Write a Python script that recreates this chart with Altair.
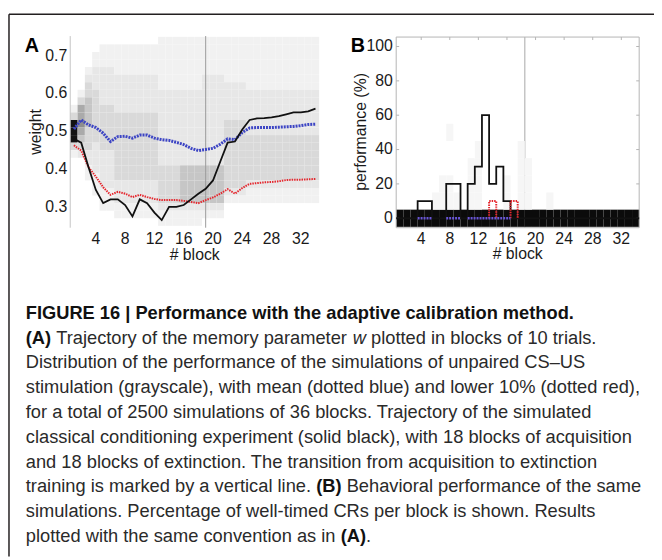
import altair as alt
import pandas as pd

# ---------------- data ----------------
blocks = list(range(1, 35))
x_ticks = [4, 8, 12, 16, 20, 24, 28, 32]

# Panel A: weight trajectories
black_A = [0.48, 0.47, 0.405, 0.345, 0.31, 0.32, 0.32, 0.305, 0.275, 0.32, 0.31, 0.285,
           0.265, 0.30, 0.30, 0.305, 0.32, 0.335, 0.348, 0.37, 0.42, 0.47, 0.473, 0.505,
           0.53, 0.534, 0.535, 0.537, 0.54, 0.545, 0.55, 0.55, 0.553, 0.56]
blue_A = [0.506, 0.53, 0.517, 0.51, 0.495, 0.473, 0.486, 0.487, 0.482, 0.49, 0.49, 0.482,
          0.478, 0.476, 0.471, 0.465, 0.455, 0.449, 0.452, 0.455, 0.466, 0.48, 0.478, 0.497,
          0.509, 0.51, 0.51, 0.51, 0.511, 0.512, 0.513, 0.515, 0.518, 0.519]
red_A = [0.463, 0.449, 0.405, 0.38, 0.352, 0.332, 0.34, 0.335, 0.326, 0.332, 0.326, 0.321,
         0.318, 0.318, 0.318, 0.316, 0.313, 0.31, 0.318, 0.325, 0.335, 0.347, 0.335, 0.35,
         0.361, 0.363, 0.365, 0.366, 0.368, 0.371, 0.372, 0.372, 0.373, 0.374]
y_ticks_A = [0.3, 0.4, 0.5, 0.6, 0.7]
transition_A = 19.0

# Panel A grayscale distribution: weight bin centres (top to bottom), one string per block,
# each digit = darkness of the cell (0 = empty)
weight_bins = [0.74, 0.72, 0.70, 0.68, 0.66, 0.64, 0.62, 0.60, 0.58, 0.56, 0.54, 0.52, 0.50,
               0.48, 0.46, 0.44, 0.42, 0.40, 0.38, 0.36, 0.34, 0.32, 0.30, 0.28, 0.26]
heat_A_cols = [
    "0000000001399931000000000",  # 1
    "0000000135565432000000000",  # 2
    "0000123344443332211000000",  # 3
    "0011222333333322221110000",  # 4
    "0111222223333332222211100",  # 5
    "0111222223333332222211100",  # 6
    "0111122222333333333222110",  # 7
    "0111122222333333333222110",  # 8
    "0111122222333333333222110",  # 9
    "0111122222333333333222110",  # 10
    "0111122222333333333222110",  # 11
    "0111122222333333333222110",  # 12
    "1111111222222222233333211",  # 13
    "1111111222222222233333211",  # 14
    "1111111222222222233333211",  # 15
    "1111111222222222244444211",  # 16
    "1111111222222222244444211",  # 17
    "1111111222222222244444211",  # 18
    "1111122222222222244444210",  # 19
    "1111122222222222244444210",  # 20
    "1111122222222222244444210",  # 21
    "1111112222233333333321000",  # 22
    "1111112222233333333321000",  # 23
    "1111112222233333333321000",  # 24
    "1111111222222333333211000",  # 25
    "1111111222222333333211000",  # 26
    "1111111222222333333211000",  # 27
    "1111111222222333333211000",  # 28
    "1111111222222333333211000",  # 29
    "1111111222222333333211000",  # 30
    "1111111222222333333211000",  # 31
    "1111111222222333333211000",  # 32
    "1111111222222333333211000",  # 33
    "1111111222222333333211000",  # 34
]
gray_levels = [1, 2, 3, 4, 5, 6, 7, 8, 9]
gray_colors_A = ["#f1f1f1", "#e7e7e7", "#d9d9d9", "#c6c6c6", "#aaaaaa", "#8e8e8e",
                 "#6e6e6e", "#444444", "#121212"]

# Panel B: performance (%) per block
black_B = [0, 0, 0, 10, 10, 0, 0, 20, 20, 0, 20, 30, 60, 20, 30, 10, 0, 0, 0, 0, 0, 0,
           0, 0, 0, 0, 0, 0, 0, 0, 0, 0, 0, 0]
red_B = [0, 0, 0, 0, 0, 0, 0, 0, 0, 0, 0, 0, 0, 10, 0, 0, 10, 0, 0, 0, 0, 0,
         0, 0, 0, 0, 0, 0, 0, 0, 0, 0, 0, 0]
blue_B = [None, None, None, 0, 0, None, None, 0, 0, None, 0, 0, 0, 0, 0, 0, None, None,
          None, None, None, None, None, None, None, None, None, None, None, None, None,
          None, None, None]
y_ticks_B = [0, 20, 40, 60, 80, 100]
transition_B = 18.5
perf_bins = [0, 10, 20, 30, 40, 50, 60, 70, 80, 90, 100]
heat_B_rows = {
    0:   "9999999999999999999999999999999999",
    10:  "0000011110110001011001000000000000",
    20:  "0000001100110001011000000000000000",
    30:  "0000000000110000011000000000000000",
    40:  "0000000000010000010000000000000000",
    50:  "0000000100000000000000000000000000",
}
gray_colors_B = ["#f6f6f6", "#e3e3e3", "#d3d3d3", "#c2c2c2", "#a8a8a8", "#8e8e8e",
                 "#6e6e6e", "#444444", "#0b0b0b"]

caption_lines = [
    "Distribution of the performance of the simulations of unpaired CS\u2013US",
    "stimulation (grayscale), with mean (dotted blue) and lower 10% (dotted red),",
    "for a total of 2500 simulations of 36 blocks. Trajectory of the simulated",
    "classical conditioning experiment (solid black), with 18 blocks of acquisition",
    "and 18 blocks of extinction. The transition from acquisition to extinction",
]

# ---------------- helpers (layout) ----------------
M = 8  # page margin


def sc(domain, rng):
    return alt.Scale(domain=domain, range=rng, nice=False, zero=False)


XA = sc([0.5, 34.5], [71 - M, 323 - M])
YA = sc([0.245, 0.752], [227 - M, 33 - M])
XB = sc([0.5, 34.5], [401 - M, 647 - M])
YB = sc([-5.5, 105.5], [227 - M, 34 - M])

one = pd.DataFrame({"a": [0]})
FONT = "Liberation Sans, Arial, Helvetica, sans-serif"

W = {' ': 278, '.': 278, ',': 278, '(': 333, ')': 333, '%': 889, '\u2013': 556, '-': 333}
W.update(dict(zip("abcdefghijklmnopqrstuvwxyz",
                  [556, 556, 500, 556, 556, 278, 556, 556, 222, 222, 500, 222, 833, 556, 556,
                   556, 556, 333, 500, 278, 556, 500, 722, 500, 500, 500])))
W.update(dict(zip("ABCDEFGHIJKLMNOPQRSTUVWXYZ",
                  [667, 667, 722, 722, 667, 611, 778, 722, 278, 500, 667, 556, 833, 722, 778,
                   667, 778, 722, 667, 611, 722, 667, 944, 667, 667, 611])))
for d in "0123456789":
    W[d] = 556


def tw(s, size, bold=False):
    if bold:
        wb = {'(': 333, ')': 333, 'A': 722, 'B': 722, ' ': 278}
        return sum(wb.get(c, 611) for c in s) / 1000 * size
    return sum(W.get(c, 556) for c in s) / 1000 * size


def txt(s, x, y, size=16, weight="normal", align="left", baseline="alphabetic",
        angle=0, color="#1a1a1a", style="normal", font=FONT):
    return alt.Chart(pd.DataFrame({"t": [s]})).mark_text(
        fontSize=size, fontWeight=weight, align=align, baseline=baseline, angle=angle,
        color=color, font=font, fontStyle=style
    ).encode(x=alt.value(x - M), y=alt.value(y - M), text="t:N")


def vrule(x, y1, y2, color, w=1):
    return alt.Chart(one).mark_rule(color=color, strokeWidth=w).encode(
        x=alt.value(x - M), y=alt.value(y1 - M), y2=alt.value(y2 - M))


def hrule(x1, x2, y, color, w=1):
    return alt.Chart(one).mark_rule(color=color, strokeWidth=w).encode(
        x=alt.value(x1 - M), x2=alt.value(x2 - M), y=alt.value(y - M))


def full_stairs(vals):
    rows, k = [], 0
    for b, v in zip(blocks, vals):
        rows.append({"x": b - 0.5, "y": v, "o": k, "s": 0}); k += 1
        rows.append({"x": b + 0.5, "y": v, "o": k, "s": 0}); k += 1
    return pd.DataFrame(rows)


def run_stairs(vals, closed):
    rows, k, s = [], 0, 0
    i, n = 0, len(vals)
    while i < n:
        ok = vals[i] is not None and (vals[i] > 0 if closed else True)
        if not ok:
            i += 1
            continue
        j = i
        while j < n and vals[j] is not None and (vals[j] > 0 if closed else True):
            j += 1
        if closed:
            rows.append({"x": blocks[i] - 0.5, "y": 0, "o": k, "s": s}); k += 1
        for t in range(i, j):
            rows.append({"x": blocks[t] - 0.5, "y": vals[t], "o": k, "s": s}); k += 1
            rows.append({"x": blocks[t] + 0.5, "y": vals[t], "o": k, "s": s}); k += 1
        if closed:
            rows.append({"x": blocks[j - 1] + 0.5, "y": 0, "o": k, "s": s}); k += 1
        s += 1
        i = j
    return pd.DataFrame(rows)


layers = []

# ---------------- frame ----------------
layers.append(hrule(9, 662, 11, "#231f20", 1.5))
layers.append(vrule(9, 11, 560, "#231f20", 1.5))

# ---------------- panel A ----------------
rowsA = []
for b, col in zip(blocks, heat_A_cols):
    for w, ch in zip(weight_bins, col):
        if ch != "0":
            rowsA.append({"x": b - 0.5, "x2": b + 0.5, "y": w - 0.01, "y2": w + 0.01,
                          "lev": int(ch)})
dfA = pd.DataFrame(rowsA)
layers.append(alt.Chart(dfA).mark_rect(strokeWidth=0).encode(
    x=alt.X("x:Q", scale=XA, axis=None), x2="x2:Q",
    y=alt.Y("y:Q", scale=YA, axis=None), y2="y2:Q",
    color=alt.Color("lev:O", scale=alt.Scale(domain=gray_levels, range=gray_colors_A),
                    legend=None)))

layers.append(vrule(71, 33, 227, "#c4c4c4", 1))
layers.append(alt.Chart(pd.DataFrame({"b": [transition_A]})).mark_rule(
    color="#9a9a9a", strokeWidth=1).encode(
    x=alt.X("b:Q", scale=XA, axis=None), y=alt.value(33 - M), y2=alt.value(227 - M)))

dfL = pd.DataFrame({"b": blocks, "black": black_A, "blue": blue_A, "red": red_A})
layers.append(alt.Chart(dfL).mark_line(color="#3c44c4", strokeWidth=3, strokeDash=[2, 1]).encode(
    x=alt.X("b:Q", scale=XA, axis=None), y=alt.Y("blue:Q", scale=YA, axis=None)))
layers.append(alt.Chart(dfL).mark_line(color="#e5262d", strokeWidth=2, strokeDash=[1.5, 1]).encode(
    x=alt.X("b:Q", scale=XA, axis=None), y=alt.Y("red:Q", scale=YA, axis=None)))
layers.append(alt.Chart(dfL).mark_line(color="#111111", strokeWidth=1.8).encode(
    x=alt.X("b:Q", scale=XA, axis=None), y=alt.Y("black:Q", scale=YA, axis=None)))

dfXT = pd.DataFrame({"b": x_ticks, "lab": [str(t) for t in x_ticks]})
layers.append(alt.Chart(dfXT).mark_text(fontSize=16, font=FONT, color="#1a1a1a",
                                         baseline="alphabetic").encode(
    x=alt.X("b:Q", scale=XA, axis=None), y=alt.value(243.5 - M), text="lab:N"))
dfYA = pd.DataFrame({"v": y_ticks_A, "lab": ["%.1f" % v for v in y_ticks_A]})
layers.append(alt.Chart(dfYA).mark_text(fontSize=16, font=FONT, color="#1a1a1a",
                                         align="right", baseline="middle").encode(
    x=alt.value(68 - M), y=alt.Y("v:Q", scale=YA, axis=None), text="lab:N"))
layers.append(txt("weight", 36, 130, 16, angle=270, align="center", baseline="middle"))
layers.append(txt("# block", 197, 260, 16, align="center"))
layers.append(txt("A", 25, 49, 20, weight="bold", color="#000000"))

# ---------------- panel B ----------------
rowsB = []
for p, row in heat_B_rows.items():
    for b, ch in zip(blocks, row):
        if ch != "0":
            rowsB.append({"x": b - 0.5, "x2": b + 0.5, "y": p - 5, "y2": p + 5,
                          "lev": int(ch)})
dfB = pd.DataFrame(rowsB)
layers.append(alt.Chart(pd.DataFrame({"b": [transition_B]})).mark_rule(
    color="#a8a8a8", strokeWidth=1).encode(
    x=alt.X("b:Q", scale=XB, axis=None), y=alt.value(34 - M), y2=alt.value(227 - M)))
layers.append(alt.Chart(dfB).mark_rect(strokeWidth=0).encode(
    x=alt.X("x:Q", scale=XB, axis=None), x2="x2:Q",
    y=alt.Y("y:Q", scale=YB, axis=None), y2="y2:Q",
    color=alt.Color("lev:O", scale=alt.Scale(domain=gray_levels, range=gray_colors_B),
                    legend=None)))
layers.append(alt.Chart(one).mark_rect(fillOpacity=0, stroke="#b4b4b4", strokeWidth=1).encode(
    x=alt.value(401 - M), x2=alt.value(647 - M), y=alt.value(34 - M), y2=alt.value(227 - M)))
layers.append(alt.Chart(pd.DataFrame({"b": x_ticks})).mark_rule(color="#b4b4b4").encode(
    x=alt.X("b:Q", scale=XB, axis=None), y=alt.value(34 - M), y2=alt.value(37 - M)))
layers.append(alt.Chart(pd.DataFrame({"v": y_ticks_B})).mark_rule(color="#b4b4b4").encode(
    y=alt.Y("v:Q", scale=YB, axis=None), x=alt.value(644 - M), x2=alt.value(647 - M)))
layers.append(alt.Chart(pd.DataFrame({"v": y_ticks_B})).mark_rule(color="#b4b4b4").encode(
    y=alt.Y("v:Q", scale=YB, axis=None), x=alt.value(401 - M), x2=alt.value(404 - M)))

dfBB = full_stairs(black_B)
layers.append(alt.Chart(dfBB).mark_line(color="#111111", strokeWidth=1.8).encode(
    x=alt.X("x:Q", scale=XB, axis=None), y=alt.Y("y:Q", scale=YB, axis=None), order="o:Q"))
dfBR = run_stairs(red_B, True)
layers.append(alt.Chart(dfBR).mark_line(color="#e5262d", strokeWidth=2, strokeDash=[1.5, 1]).encode(
    x=alt.X("x:Q", scale=XB, axis=None), y=alt.Y("y:Q", scale=YB, axis=None),
    detail="s:N", order="o:Q"))
dfBL = run_stairs(blue_B, False)
layers.append(alt.Chart(dfBL).mark_line(color="#6a56d8", strokeWidth=2.5, strokeDash=[2, 1]).encode(
    x=alt.X("x:Q", scale=XB, axis=None), y=alt.Y("y:Q", scale=YB, axis=None),
    detail="s:N", order="o:Q"))

layers.append(alt.Chart(dfXT).mark_text(fontSize=16, font=FONT, color="#1a1a1a",
                                         baseline="alphabetic").encode(
    x=alt.X("b:Q", scale=XB, axis=None), y=alt.value(243.5 - M), text="lab:N"))
dfYB = pd.DataFrame({"v": y_ticks_B, "lab": [str(v) for v in y_ticks_B]})
layers.append(alt.Chart(dfYB).mark_text(fontSize=16, font=FONT, color="#1a1a1a",
                                         align="right", baseline="middle").encode(
    x=alt.value(397.5 - M), y=alt.Y("v:Q", scale=YB, axis=None), text="lab:N"))
layers.append(txt("performance (%)", 365, 130, 16, angle=270, align="center", baseline="middle"))
layers.append(txt("# block", 524, 259, 16, align="center"))
layers.append(txt("B", 355, 49.5, 20, weight="bold", color="#000000"))

# ---------------- caption ----------------
FS = 18.5
X0 = 26
base = 319.3
step = 25.1
CAPC = "#2a2a2a"
layers.append(txt("FIGURE 16 | Performance with the adaptive calibration method.", X0, base,
                  FS, weight="bold", color="#111111"))
# line 1
y1 = base + step
x = X0
layers.append(txt("(A)", x, y1, FS, weight="bold", color="#111111"))
x += tw("(A) ", FS, bold=True)
s1 = "Trajectory of the memory parameter"
layers.append(txt(s1, x, y1, FS, color=CAPC))
x += tw(s1 + " ", FS)
layers.append(txt("w", x, y1, FS, color=CAPC, style="italic"))
x += tw("w ", FS)
layers.append(txt("plotted in blocks of 10 trials.", x, y1, FS, color=CAPC))
# plain lines
for i, line in enumerate(caption_lines):
    layers.append(txt(line, X0, base + step * (2 + i), FS, color=CAPC))
# line 7
y7 = base + step * 7
s7 = "training is marked by a vertical line."
layers.append(txt(s7, X0, y7, FS, color=CAPC))
x = X0 + tw(s7 + " ", FS)
layers.append(txt("(B)", x, y7, FS, weight="bold", color="#111111"))
x += tw("(B) ", FS, bold=True)
layers.append(txt("Behavioral performance of the same", x, y7, FS, color=CAPC))
# line 8
layers.append(txt("simulations. Percentage of well-timed CRs per block is shown. Results",
                  X0, base + step * 8, FS, color=CAPC))
# line 9
y9 = base + step * 9
s9 = "plotted with the same convention as in"
layers.append(txt(s9, X0, y9, FS, color=CAPC))
x = X0 + tw(s9 + " ", FS)
layers.append(txt("(A)", x, y9, FS, weight="bold", color="#111111"))
x += tw("(A)", FS, bold=True)
layers.append(txt(".", x, y9, FS, color=CAPC))

chart = alt.LayerChart(layer=layers).resolve_scale(
    x="independent", y="independent", color="independent"
).properties(
    width=654, height=552, padding=0, autosize=alt.AutoSizeParams(type="none")
).configure_view(stroke=None)

chart.save("out.html", embed_options={"renderer": "svg", "actions": False})
